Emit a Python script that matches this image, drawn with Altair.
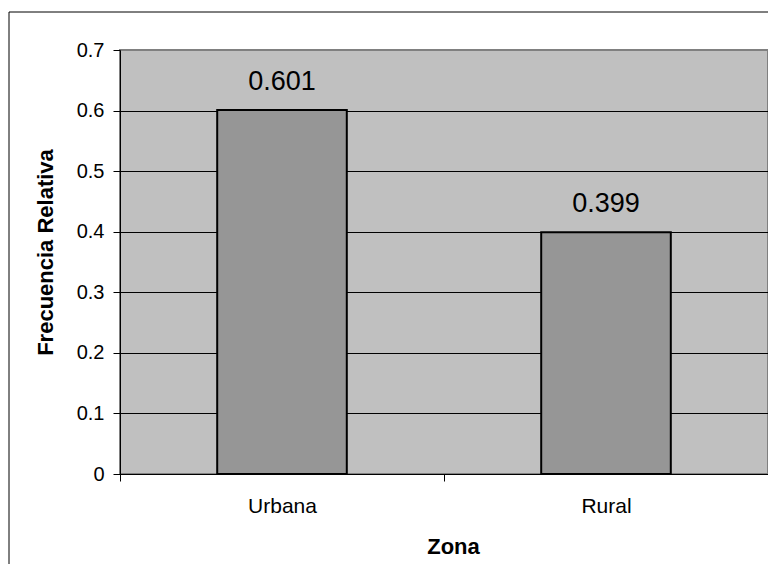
import altair as alt
import pandas as pd

# ---- data ----
zonas = ["Urbana", "Rural"]
frecuencias = [0.601, 0.399]
y_tick_values = [0, 0.1, 0.2, 0.3, 0.4, 0.5, 0.6, 0.7]

df = pd.DataFrame({"Zona": zonas, "Frecuencia": frecuencias})
frame_df = pd.DataFrame({"k": [0]})

FONT = "Liberation Sans"

x_enc = alt.X(
    "Zona:N",
    sort=zonas,
    title="Zona",
    scale=alt.Scale(paddingInner=0, paddingOuter=0),
    axis=alt.Axis(
        labelAngle=0,
        labelFont=FONT,
        labelFontSize=21,
        labelColor="black",
        labelPadding=14,
        tickSize=7,
        tickColor="black",
        tickBand="extent",
        domainColor="black",
        domainWidth=1,
        titleFont=FONT,
        titleFontSize=22,
        titleFontWeight="bold",
        titleColor="black",
        titleX=333,
        titleY=79,
        titleAlign="center",
        titleBaseline="alphabetic",
    ),
)

y_enc = alt.Y(
    "Frecuencia:Q",
    title="Frecuencia Relativa",
    scale=alt.Scale(domain=[0, 0.7], nice=False, zero=True),
    axis=alt.Axis(
        values=y_tick_values,
        format="~g",
        labelFont=FONT,
        labelFontSize=20,
        labelColor="black",
        labelPadding=9,
        tickSize=7,
        tickColor="black",
        domainColor="black",
        grid=True,
        gridColor="black",
        gridWidth=1,
        gridOpacity=alt.condition("datum.value > 0.65", alt.value(0), alt.value(1)),
        titleFont=FONT,
        titleFontSize=22,
        titleFontWeight="bold",
        titleColor="black",
        titleAngle=270,
        titleX=-68,
        titleY=202,
        titleAlign="center",
        titleBaseline="alphabetic",
    ),
)

bars = alt.Chart(df).mark_bar(
    color="#969696", stroke="black", strokeWidth=2, width=alt.RelativeBandSize(0.4)
).encode(x=x_enc, y=y_enc)

labels = alt.Chart(df).mark_text(
    dy=-20, baseline="alphabetic", align="center", font=FONT, fontSize=27, color="black"
).encode(
    x=alt.X("Zona:N", sort=zonas),
    y=alt.Y("Frecuencia:Q"),
    text=alt.Text("Frecuencia:Q", format=".3f"),
)

# outer chart frame (decoration)
frame_left = alt.Chart(frame_df).mark_rule(color="black", strokeWidth=1).encode(
    x=alt.value(-111), y=alt.value(-38), y2=alt.value(800)
)
frame_top = alt.Chart(frame_df).mark_rule(color="black", strokeWidth=1).encode(
    x=alt.value(-111), x2=alt.value(900), y=alt.value(-38)
)

chart = (
    alt.layer(bars, labels, frame_left, frame_top)
    .properties(
        width=648,
        height=424,
        autosize=alt.AutoSizeParams(type="none"),
        padding={"left": 112, "top": 42, "right": 0, "bottom": 90},
        background="white",
    )
    .configure_view(fill="#C0C0C0", stroke="#808080", strokeWidth=2)
)

chart.save("out.html", embed_options={"renderer": "svg", "actions": False})
